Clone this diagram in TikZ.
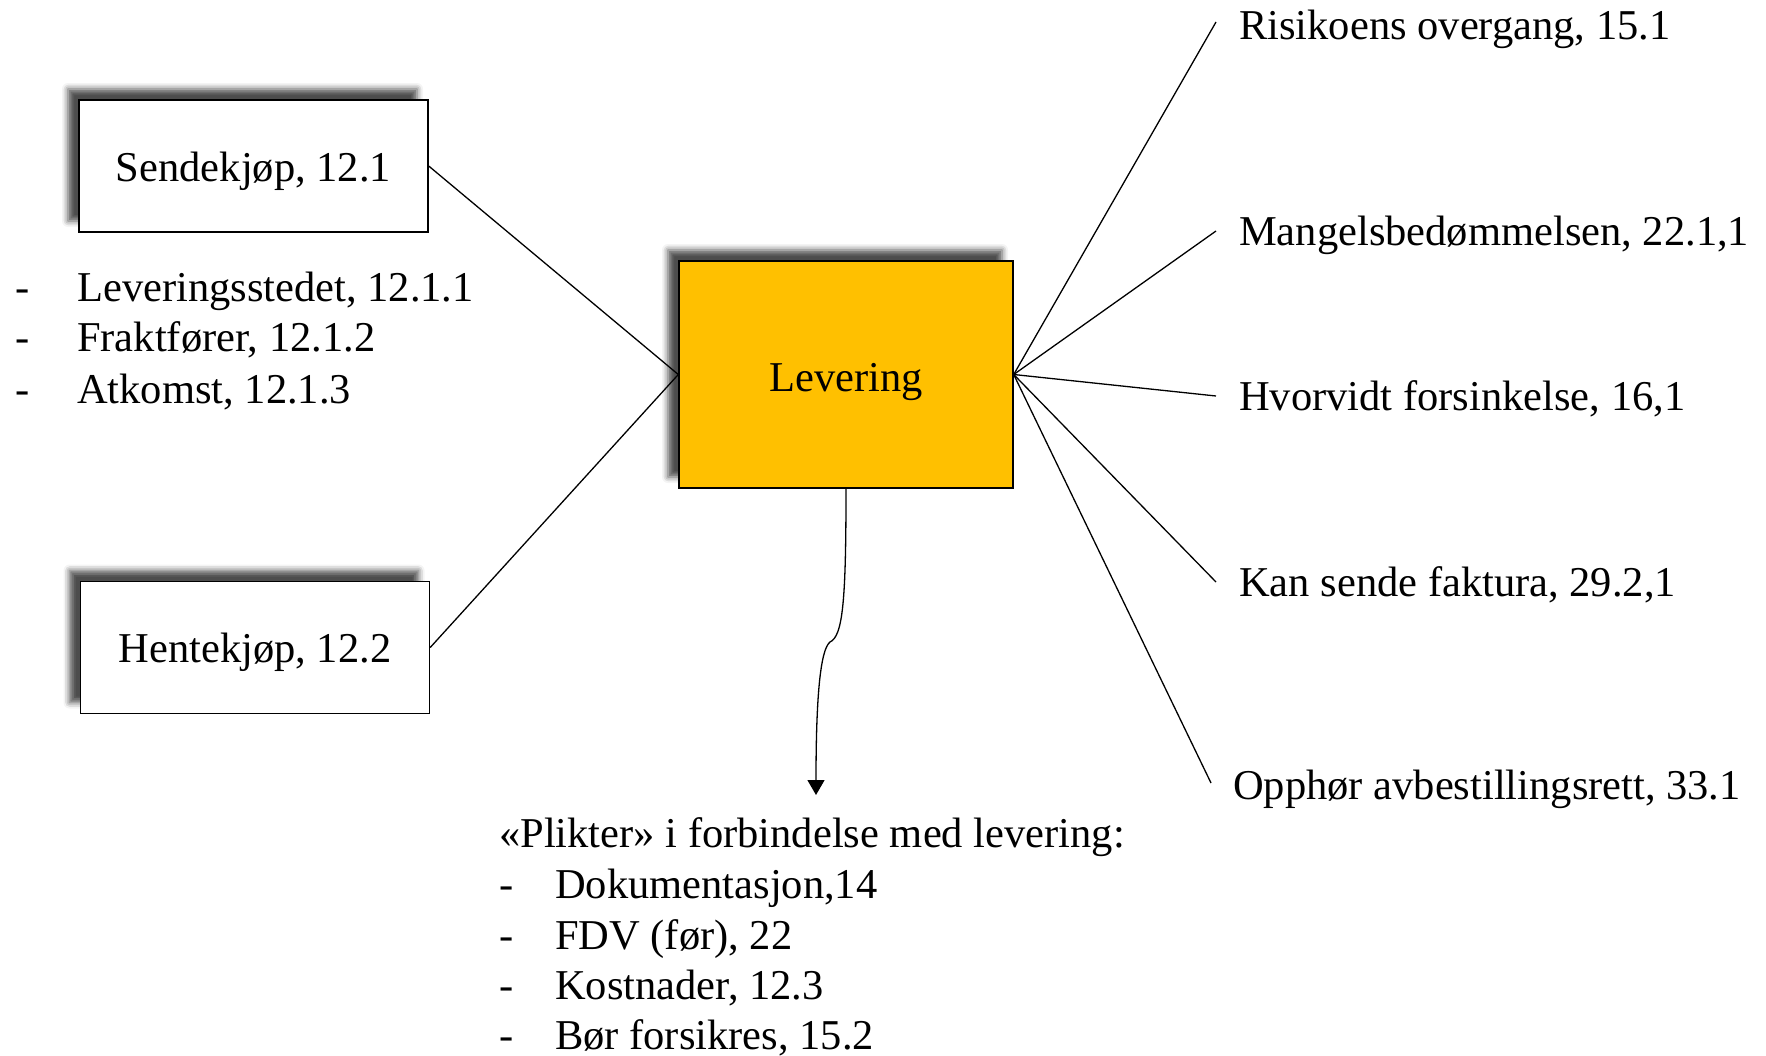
\documentclass[tikz,border=0pt]{standalone}
\usepackage{fontspec}
\setmainfont{Liberation Serif}
\usetikzlibrary{shadows.blur,arrows.meta}
\definecolor{levfill}{RGB}{255,192,0}
\begin{document}
\begin{tikzpicture}[x=1pt,y=-1pt,
  every node/.style={font=\fontsize{42.5}{51}\selectfont},
  box/.style={draw=black,line width=1.4pt,fill=white,minimum width=349pt,minimum height=132pt,
    text height=34pt,text depth=4pt,inner sep=0pt,
    blur shadow={shadow xshift=-11pt,shadow yshift=11pt,shadow blur radius=6pt,shadow opacity=70}},
  txt/.style={anchor=base west,inner sep=0pt},
  conn/.style={draw=black,line width=1.3pt}]
\useasboundingbox (0,0) rectangle (1766,1055);
\node[box] (send) at (253.5,166) {Sendekjøp, 12.1};
\node[box] (hent) at (255,647.5) {Hentekjøp, 12.2};
\node[box,fill=levfill,minimum width=334pt,minimum height=227pt,text height=38pt,text depth=4pt] (lev) at (846,374.5) {Levering};
% left list
\node[txt] (d1) at (15,301) {-};
\node[txt] (l1) at (77,301) {Leveringsstedet, 12.1.1};
\node[txt] (d2) at (15,351) {-};
\node[txt] (l2) at (77,351) {Fraktfører, 12.1.2};
\node[txt] (d3) at (15,403) {-};
\node[txt] (l3) at (77,403) {Atkomst, 12.1.3};
% right texts
\node[txt] (r1) at (1239,39) {Risikoens overgang, 15.1};
\node[txt] (r2) at (1239,245) {Mangelsbedømmelsen, 22.1,1};
\node[txt] (r3) at (1239,410) {Hvorvidt forsinkelse, 16,1};
\node[txt] (r4) at (1239,596) {Kan sende faktura, 29.2,1};
\node[txt] (r5) at (1233,799) {Opphør avbestillingsrett, 33.1};
\coordinate (e1) at (1216,22);
\coordinate (e2) at (1216,231);
\coordinate (e3) at (1216,396);
\coordinate (e4) at (1216,582);
\coordinate (e5) at (1211,783);
% bottom list
\node[txt] (b0) at (499,847) {«Plikter» i forbindelse med levering:};
\node[txt] (bd1) at (499,898) {-};
\node[txt] (b1) at (555,898) {Dokumentasjon,14};
\node[txt] (bd2) at (499,949) {-};
\node[txt] (b2) at (555,949) {FDV (før), 22};
\node[txt] (bd3) at (499,999) {-};
\node[txt] (b3) at (555,999) {Kostnader, 12.3};
\node[txt,text depth=0pt] (bd4) at (499,1049) {-};
\node[txt,text depth=0pt] (b4) at (555,1049) {Bør forsikres, 15.2};
\coordinate (kink) at (830,642);
\coordinate (tip) at (816,795);
% connectors
\draw[conn] (send.east) -- (lev.west);
\draw[conn] (hent.east) -- (lev.west);
\foreach \e in {e1,e2,e3,e4,e5} \draw[conn] (lev.east) -- (\e);
\draw[conn,-{Triangle[width=17pt,length=15pt]}] (lev.south) .. controls (846,600) and (843,636) .. (kink) .. controls (820,650) and (816,700) .. (tip);
\end{tikzpicture}
\end{document}
